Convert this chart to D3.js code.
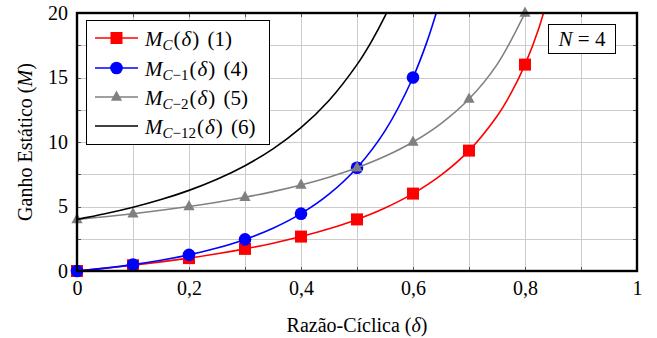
<!DOCTYPE html>
<html>
<head>
<meta charset="utf-8">
<script src="https://cdn.jsdelivr.net/npm/d3@7"></script>
<style>
  html, body { margin: 0; padding: 0; background: #fff; }
  svg text { font-family: "Liberation Serif", "Times New Roman", "DejaVu Serif", serif; fill: #000; }
</style>
</head>
<body>
<svg id="chart" width="657" height="338"></svg>
<script>
// Static gain of the converters versus duty cycle, N = 4

const xTickValues = [0, 0.2, 0.4, 0.6, 0.8, 1];
const xTickLabels = ["0", "0,2", "0,4", "0,6", "0,8", "1"];
const yTickValues = [0, 5, 10, 15, 20];
const yTickLabels = ["0", "5", "10", "15", "20"];

// M_C(δ)  — curve samples and marker points
const mcCurveX = [0, 0.05, 0.1, 0.15, 0.2, 0.25, 0.3, 0.35, 0.4, 0.45, 0.5, 0.55, 0.6, 0.65, 0.7, 0.75, 0.775, 0.8, 0.825, 0.85];
const mcCurveY = [0, 0.21, 0.444, 0.706, 1.0, 1.333, 1.714, 2.154, 2.667, 3.273, 4.0, 4.889, 6.0, 7.429, 9.333, 12.0, 13.78, 16.0, 18.86, 22.67];
const mcMarkX = [0, 0.1, 0.2, 0.3, 0.4, 0.5, 0.6, 0.7, 0.8];
const mcMarkY = [0, 0.444, 1.0, 1.714, 2.667, 4.0, 6.0, 9.333, 16.0];

// M_{C-1}(δ)
const mc1CurveX = [0, 0.05, 0.1, 0.15, 0.2, 0.25, 0.3, 0.35, 0.4, 0.45, 0.5, 0.55, 0.6, 0.625, 0.65];
const mc1CurveY = [0, 0.222, 0.494, 0.830, 1.25, 1.778, 2.449, 3.314, 4.444, 5.95, 8.0, 10.86, 15.0, 17.78, 21.22];
const mc1MarkX = [0, 0.1, 0.2, 0.3, 0.4, 0.5, 0.6];
const mc1MarkY = [0, 0.494, 1.25, 2.449, 4.444, 8.0, 15.0];

// M_{C-2}(δ)
const mc2CurveX = [0, 0.05, 0.1, 0.15, 0.2, 0.25, 0.3, 0.35, 0.4, 0.45, 0.5, 0.55, 0.6, 0.65, 0.7, 0.75, 0.8];
const mc2CurveY = [4.0, 4.211, 4.444, 4.706, 5.0, 5.333, 5.714, 6.154, 6.667, 7.273, 8.0, 8.889, 10.0, 11.43, 13.33, 16.0, 20.0];
const mc2MarkX = [0, 0.1, 0.2, 0.3, 0.4, 0.5, 0.6, 0.7, 0.8];
const mc2MarkY = [4.0, 4.444, 5.0, 5.714, 6.667, 8.0, 10.0, 13.33, 20.0];

// M_{C-12}(δ)
const mc12CurveX = [0, 0.05, 0.1, 0.15, 0.2, 0.25, 0.3, 0.35, 0.4, 0.45, 0.5, 0.525, 0.55, 0.575];
const mc12CurveY = [4.0, 4.432, 4.938, 5.536, 6.25, 7.111, 8.163, 9.467, 11.11, 13.22, 16.0, 17.73, 19.75, 22.15];

const svg = d3.select("#chart");
const plot = { left: 77, right: 637, top: 13, bottom: 271 };

const x = d3.scaleLinear().domain([0, 1]).range([plot.left, plot.right]);
const y = d3.scaleLinear().domain([0, 20]).range([plot.bottom, plot.top]);

svg.append("defs").append("clipPath").attr("id", "plotClip")
  .append("rect")
  .attr("x", plot.left).attr("y", plot.top)
  .attr("width", plot.right - plot.left).attr("height", plot.bottom - plot.top);

// grid
const gridX = d3.range(0, 1.0001, 0.1);
const gridY = d3.range(0, 20.0001, 2.5);
const grid = svg.append("g").attr("stroke", "#cccccc").attr("stroke-width", 1);
grid.selectAll("line.gx").data(gridX).join("line")
  .attr("x1", d => Math.round(x(d)) + 0.5).attr("x2", d => Math.round(x(d)) + 0.5)
  .attr("y1", plot.top).attr("y2", plot.bottom);
grid.selectAll("line.gy").data(gridY).join("line")
  .attr("y1", d => Math.round(y(d)) + 0.5).attr("y2", d => Math.round(y(d)) + 0.5)
  .attr("x1", plot.left).attr("x2", plot.right);

// inward ticks on all four sides
const tickLen = 4;
const ticks = svg.append("g").attr("stroke", "#555").attr("stroke-width", 1);
gridX.forEach(d => {
  const px = Math.round(x(d)) + 0.5;
  ticks.append("line").attr("x1", px).attr("x2", px).attr("y1", plot.bottom).attr("y2", plot.bottom - tickLen);
  ticks.append("line").attr("x1", px).attr("x2", px).attr("y1", plot.top).attr("y2", plot.top + tickLen);
});
gridY.forEach(d => {
  const py = Math.round(y(d)) + 0.5;
  ticks.append("line").attr("y1", py).attr("y2", py).attr("x1", plot.left).attr("x2", plot.left + tickLen);
  ticks.append("line").attr("y1", py).attr("y2", py).attr("x1", plot.right).attr("x2", plot.right - tickLen);
});

// tick labels via d3 axes (tick marks hidden, labels only)
const xAxis = d3.axisBottom(x).tickValues(xTickValues)
  .tickFormat((d, i) => xTickLabels[i]).tickSize(0).tickPadding(10);
const gx = svg.append("g").attr("transform", `translate(0,${plot.bottom})`).call(xAxis)
  .attr("font-size", 20);
gx.select(".domain").remove();

const yAxis = d3.axisLeft(y).tickValues(yTickValues)
  .tickFormat((d, i) => yTickLabels[i]).tickSize(0).tickPadding(9);
const gy = svg.append("g").attr("transform", `translate(${plot.left},0)`).call(yAxis)
  .attr("font-size", 20);
gy.select(".domain").remove();

// series
const line = d3.line().x(d => x(d[0])).y(d => y(d[1])).curve(d3.curveCatmullRom.alpha(0.5));
const zipPts = (xs, ys) => xs.map((v, i) => [v, ys[i]]);

const series = [
  { curve: zipPts(mcCurveX, mcCurveY), marks: zipPts(mcMarkX, mcMarkY), color: "#ff0000", marker: "square" },
  { curve: zipPts(mc1CurveX, mc1CurveY), marks: zipPts(mc1MarkX, mc1MarkY), color: "#0000ff", marker: "circle" },
  { curve: zipPts(mc2CurveX, mc2CurveY), marks: zipPts(mc2MarkX, mc2MarkY), color: "#808080", marker: "triangle" },
  { curve: zipPts(mc12CurveX, mc12CurveY), marks: [], color: "#000000", marker: null }
];

function drawMarker(g, type, color, cx, cy) {
  if (type === "square") {
    g.append("rect").attr("x", cx - 6).attr("y", cy - 6).attr("width", 12).attr("height", 12).attr("fill", color);
  } else if (type === "circle") {
    g.append("circle").attr("cx", cx).attr("cy", cy).attr("r", 6.3).attr("fill", color);
  } else if (type === "triangle") {
    g.append("path").attr("d", `M${cx},${cy - 6.5}L${cx + 5.6},${cy + 3.8}L${cx - 5.6},${cy + 3.8}Z`).attr("fill", color);
  }
}

series.forEach(s => {
  const g = svg.append("g");
  g.append("path").datum(s.curve).attr("d", line)
    .attr("fill", "none").attr("stroke", s.color).attr("stroke-width", 1.6)
    .attr("clip-path", "url(#plotClip)");
  s.marks.forEach(p => drawMarker(g, s.marker, s.color, x(p[0]), y(p[1])));
});

// frame
svg.append("rect")
  .attr("x", plot.left).attr("y", plot.top)
  .attr("width", plot.right - plot.left).attr("height", plot.bottom - plot.top)
  .attr("fill", "none").attr("stroke", "#000").attr("stroke-width", 2.4);

// axis titles
const xt = svg.append("text").attr("x", (plot.left + plot.right) / 2).attr("y", 332)
  .attr("text-anchor", "middle").attr("font-size", 20);
xt.append("tspan").text("Razão-Cíclica (");
xt.append("tspan").attr("font-style", "italic").text("δ");
xt.append("tspan").text(")");

const yt = svg.append("text").attr("transform", `translate(32,${(plot.top + plot.bottom) / 2}) rotate(-90)`)
  .attr("text-anchor", "middle").attr("font-size", 20);
yt.append("tspan").text("Ganho Estático (");
yt.append("tspan").attr("font-style", "italic").text("M");
yt.append("tspan").text(")");

// legend
const legendNames = [
  { sub: ["C"], num: "(1)" },
  { sub: ["C", "−1"], num: "(4)" },
  { sub: ["C", "−2"], num: "(5)" },
  { sub: ["C", "−12"], num: "(6)" }
];
const lg = svg.append("g");
lg.append("rect").attr("x", 86.5).attr("y", 20.5).attr("width", 183).attr("height", 124)
  .attr("fill", "#fff").attr("stroke", "#000").attr("stroke-width", 1);
const rowY = [38, 68, 97, 126];
series.forEach((s, i) => {
  const ry = rowY[i];
  lg.append("line").attr("x1", 95).attr("x2", 138).attr("y1", ry).attr("y2", ry)
    .attr("stroke", s.color).attr("stroke-width", 1.6);
  if (s.marker) drawMarker(lg, s.marker, s.color, 116.5, ry);
  const t = lg.append("text").attr("x", 145).attr("y", ry + 8).attr("font-size", 21);
  t.append("tspan").attr("font-style", "italic").text("M");
  const nm = legendNames[i];
  t.append("tspan").attr("font-style", "italic").attr("font-size", 15).attr("dy", 4).text(nm.sub[0]);
  if (nm.sub[1]) t.append("tspan").attr("font-size", 15).text(nm.sub[1]);
  t.append("tspan").attr("dy", -4).attr("dx", 1).text("(");
  t.append("tspan").attr("font-style", "italic").attr("dx", 1).text("δ");
  t.append("tspan").attr("dx", 1).text(")");
  t.append("tspan").attr("dx", 3).text(" " + nm.num);
});

// parameter box
const nb = svg.append("g");
nb.append("rect").attr("x", 548.5).attr("y", 24.5).attr("width", 67).attr("height", 29)
  .attr("fill", "#fff").attr("stroke", "#000").attr("stroke-width", 1);
const nt = nb.append("text").attr("x", 582).attr("y", 46).attr("text-anchor", "middle").attr("font-size", 21);
nt.append("tspan").attr("font-style", "italic").text("N");
nt.append("tspan").text(" = 4");
</script>
</body>
</html>
